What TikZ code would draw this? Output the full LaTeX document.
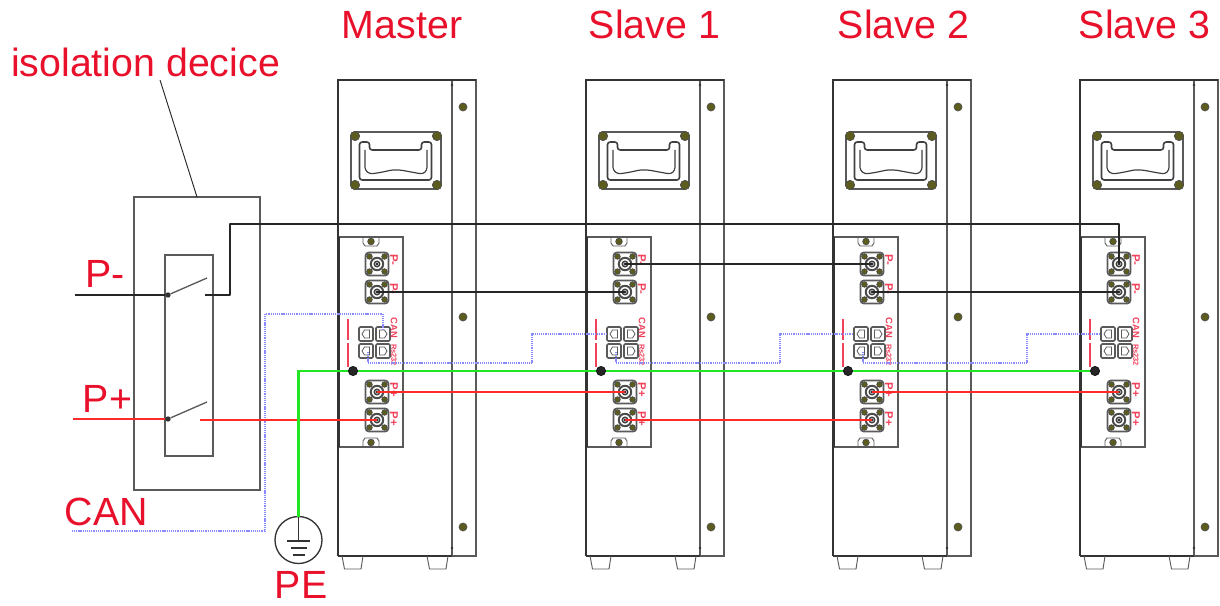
\documentclass[tikz,border=0pt]{standalone}
\usepackage{fontspec}
\setmainfont{Liberation Sans}
\definecolor{lbl}{HTML}{E8102A}
\definecolor{lblsoft}{HTML}{F0405A}
\definecolor{wred}{HTML}{FF2A2A}
\definecolor{wgreen}{HTML}{22E622}
\definecolor{wblue}{HTML}{8A8AFF}
\definecolor{olive}{HTML}{5C5C1E}
\definecolor{gline}{HTML}{5A5A5A}
\tikzset{
  bigtext/.style={text=lbl,anchor=base,inner sep=0pt,font=\fontsize{29.5}{32}\selectfont},
  tinytext/.style={text=lblsoft,rotate=-90,inner sep=0pt,font=\bfseries\fontsize{#1}{9}\selectfont},
  thin grey/.style={draw=gline,line width=0.9pt},
  dark/.style={draw=black!80,line width=1.2pt},
  wireblack/.style={draw=black!85,line width=1.9pt,line join=round},
  wirered/.style={draw=wred,line width=1.9pt},
  wiregreen/.style={draw=wgreen,line width=1.9pt},
  wireblue/.style={draw=wblue,line width=1pt,dash pattern=on 0.8pt off 0.6pt},
  screw/.style={circle,fill=olive,draw=black!70,line width=0.5pt,minimum size=5pt,inner sep=0pt},
  joint/.style={circle,fill=black!80,minimum size=4pt,inner sep=0pt},
  busdot/.style={circle,fill=black!85,draw=black,minimum size=7pt,inner sep=0pt}
}
\newcommand{\connector}[2]{% name, y
  \coordinate (#1) at (377,#2);
  \draw[gline,line width=1.3pt,fill=white,rounded corners=2.5pt] (365.5,#2-11.5) rectangle (388.5,#2+11.5);
  \node[screw,minimum size=4.2pt] at (369.5,#2-7.5) {};
  \node[screw,minimum size=4.2pt] at (384.5,#2-7.5) {};
  \node[screw,minimum size=4.2pt] at (369.5,#2+7.5) {};
  \node[screw,minimum size=4.2pt] at (384.5,#2+7.5) {};
  \draw[black!70,line width=1.5pt,fill=white] (377,#2) circle (6.2);
  \draw[black!75,line width=1pt,fill=gray!40] (377,#2) circle (2.8);
  \fill[black!85] (377,#2) circle (1.3);
}
\newcommand{\portbox}[3]{% cx, cy, direction sign
  \begin{scope}[shift={(#1,#2)}]
    \draw[gline,line width=1.2pt,fill=white,rounded corners=1pt] (-7,-7) rectangle (7,7);
    \begin{scope}[xscale=#3]
      \draw[gline,line width=0.6pt] (-3.5,-4) -- (1.5,-4) -- (4,0) -- (1.5,4) -- (-3.5,4) -- cycle;
    \end{scope}
  \end{scope}
}
\begin{document}
\begin{tikzpicture}[x=0.75pt,y=-0.75pt]
\useasboundingbox (0,0) rectangle (1220,606);

% battery modules
\foreach \n/\dx in {M/0,A/248,B/495,C/742}{
\begin{scope}[shift={(\dx,0)}]
  % cabinet
  \draw[thin grey] (452,80) rectangle (476,556);
  \draw[dark] (338,556) -- (338,80) -- (476,80);
  \draw[dark] (338,556) -- (452,556);
  \fill[black!80] (452,85) circle (1.3);
  \fill[black!80] (452,548) circle (1.3);
  \foreach \yy in {107,317,527}{\node[screw,minimum size=6pt] at (463,\yy) {};}
  % feet
  \draw[gline,line width=0.7pt] (342,556) -- (344.5,569) -- (361,569) -- (363,556);
  \draw[gline,line width=0.7pt] (427,556) -- (429.5,569) -- (446,569) -- (448,556);
  % handle
  \draw[gline,line width=1.2pt,rounded corners=3pt] (351,132) rectangle (441,189);
  \draw[black!75,line width=1.2pt,rounded corners=2pt] (359.5,142) -- (369.5,142) -- (369.5,150) -- (421.5,150) -- (421.5,142) -- (431.5,142) -- (431.5,180) -- (359.5,180) -- cycle;
  \draw[black!75,line width=0.9pt,rounded corners=2pt] (365,150) -- (365,170) -- (370,174) .. controls (385,172) and (390,170) .. (396,170) .. controls (402,170) and (410,172) .. (423,174) -- (427,170) -- (427,150);
  \foreach \xx/\yy in {355/136,437/136,355/185,437/185}{\node[screw,minimum size=7pt] at (\xx,\yy) {};}
  % panel
  \draw[thin grey] (339,237) -- (403,237) -- (403,447) -- (339,447);
  \draw[dark,line width=1.3pt] (339,237) -- (339,447);
  \draw[thin grey,line width=0.7pt] (363,237) -- (363,243) -- (365,246) -- (377,246) -- (379,243) -- (379,237);
  \draw[thin grey,line width=0.7pt] (363,447) -- (363,441) -- (365,438) -- (377,438) -- (379,441) -- (379,447);
  \node[screw] at (371,241.5) {};
  \node[screw] at (371,442.5) {};
  \connector{\n-a}{264}
  \connector{\n-b}{292}
  \connector{\n-c}{392}
  \connector{\n-d}{420}
  % serial ports
  \portbox{366}{334}{-1}
  \portbox{383}{334}{1}
  \portbox{366}{351}{-1}
  \portbox{383}{351}{1}
  \coordinate (\n-can1) at (383,331);
  \coordinate (\n-can0) at (359,334);
  \coordinate (\n-can2) at (368,352);
  \coordinate (\n-can3) at (368,363);
  % red mark and earth stud
  \draw[lblsoft,line width=0.8pt] (348,319) -- (348,340);
  \draw[lblsoft,line width=0.8pt] (348,343) -- (348,367);
  \node[tinytext=8.5] at (394,260) {P-};
  \node[tinytext=8.5] at (394,289) {P-};
  \node[tinytext=7] at (394,328) {CAN};
  \node[tinytext=5.6] at (394,355) {Rs232};
  \node[tinytext=8.5] at (394,390) {P+};
  \node[tinytext=8.5] at (394,419) {P+};
  \coordinate (\n-gnd) at (353,371);
\end{scope}
}

% titles
\node[bigtext] (tM) at (402,39) {Master};
\node[bigtext] (tA) at (654.5,39) {Slave 1};
\node[bigtext] (tB) at (903.5,39) {Slave 2};
\node[bigtext] (tC) at (1144.5,39) {Slave 3};
\node[bigtext] (tI) at (145.5,76.5) {isolation decice};
\node[bigtext] (tPm) at (105,287) {P-};
\node[bigtext] (tPp) at (107.5,412) {P+};
\node[bigtext] (tCAN) at (106.5,525) {CAN};
\node[bigtext] (tPE) at (301,598) {PE};

% isolation device
\node[thin grey,draw,minimum width=94.5pt,minimum height=219.75pt,inner sep=0pt] (iso) at (197,343.5) {};
\node[thin grey,draw,minimum width=36pt,minimum height=150.75pt,inner sep=0pt] (sw) at (189,355.5) {};
\coordinate (leadtop) at (160,80);
\coordinate (isotop) at (197,197);
\draw[black!85,line width=0.7pt] (leadtop) -- (isotop);

\coordinate (pmin) at (75,295);
\coordinate (ppin) at (73,419);
\coordinate (pmtip) at (207,278);
\coordinate (pptip) at (207,402);
\coordinate (pmout) at (205,295);
\coordinate (ppout) at (200,420);
\coordinate (pmrise) at (230,224);
\node[joint] (pmj) at (168,295) {};
\node[joint] (ppj) at (168,419) {};

% CAN
\coordinate (canin) at (72,531);
\coordinate (cancorner) at (265,314);
\draw[wireblue] (canin) -| (cancorner) -| (M-can1);
\coordinate (k1) at (532,334);
\coordinate (k2) at (780,334);
\coordinate (k3) at (1027,334);
\draw[wireblue] (M-can2) -- (M-can3) -| (k1) -- (A-can0);
\draw[wireblue] (A-can2) -- (A-can3) -| (k2) -- (B-can0);
\draw[wireblue] (B-can2) -- (B-can3) -| (k3) -- (C-can0);

% black wires
\draw[wireblack] (pmin) -- (pmj);
\draw[gline,line width=1pt] (pmj) -- (pmtip);
\draw[wireblack] (pmout) -| (pmrise) -| (C-a);
\draw[wireblack] (M-b) -- (A-b);
\draw[wireblack] (A-a) -- (B-a);
\draw[wireblack] (B-b) -- (C-b);

% red wires
\draw[wirered,line width=1.2pt] (ppin) -- (ppj);
\draw[gline,line width=1pt] (ppj) -- (pptip);
\draw[wirered] (ppout) -- (M-d);
\draw[wirered] (M-c) -- (A-c);
\draw[wirered] (A-d) -- (B-d);
\draw[wirered] (B-c) -- (C-c);

% earth
\draw[black!80,line width=1pt] (298.5,540) circle (23.5);
\node[inner sep=0pt,minimum size=0pt] (pe) at (298.5,517) {};
\coordinate (pebus) at (298.5,371);
\draw[wiregreen] (pe) -- (pebus) -- (C-gnd);
\draw[black!80,line width=0.8pt] (298.5,517) -- (298.5,541);
\draw[black!80,line width=0.8pt] (287,541) -- (310,541);
\draw[black!80,line width=0.8pt] (290.5,548) -- (306.5,548);
\draw[black!80,line width=0.8pt] (292.5,555) -- (304.5,555);
\foreach \n in {M,A,B,C}{\node[busdot] at (\n-gnd) {};}
\end{tikzpicture}
\end{document}
